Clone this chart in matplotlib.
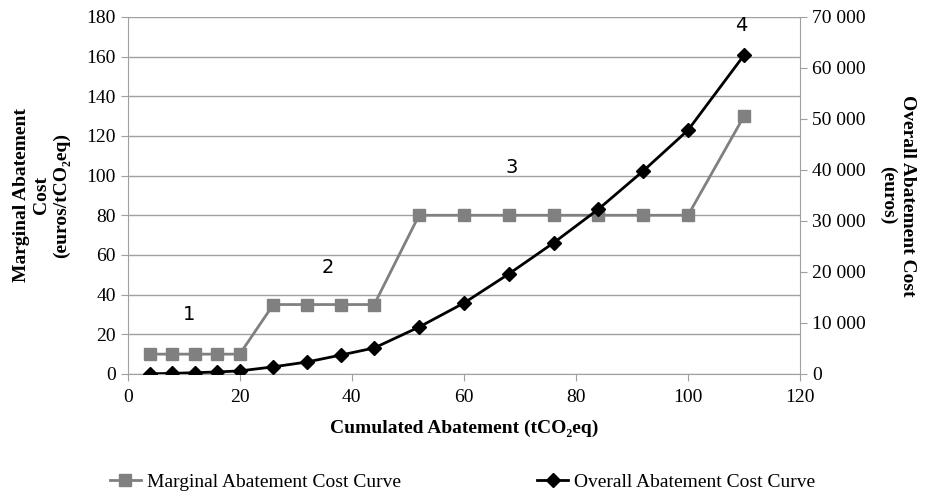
import matplotlib
matplotlib.use("Agg")
import matplotlib.pyplot as plt
from matplotlib.ticker import FuncFormatter

# data
abatement = [4, 8, 12, 16, 20, 26, 32, 38, 44, 52, 60, 68, 76, 84, 92, 100, 110]
marginal_cost = [10, 10, 10, 10, 10, 35, 35, 35, 35, 80, 80, 80, 80, 80, 80, 80, 130]
overall_cost = [40, 120, 250, 400, 600, 1400, 2350, 3700, 5100, 9200, 13900,
                19600, 25700, 32300, 39800, 47800, 62500]
step_labels = ["1", "2", "3", "4"]
step_x = [11, 35.7, 68.6, 109.5]
step_y = [30, 53.5, 104, 175.5]

serif = "Liberation Serif"
gray = "#808080"
axis_gray = "#a0a0a0"

fig = plt.figure(figsize=(9.25, 4.96), dpi=100)
ax = fig.add_axes([0.138, 0.246, 0.727, 0.72])
ax2 = ax.twinx()

ax.set_xlim(0, 120)
ax.set_ylim(0, 180)
ax.set_xticks(range(0, 121, 20))
ax.set_yticks(range(0, 181, 20))
ax2.set_ylim(0, 70000)
ax2.set_yticks(range(0, 70001, 10000))
ax2.yaxis.set_major_formatter(FuncFormatter(lambda v, p: "{:,.0f}".format(v).replace(",", " ")))

ax.grid(axis="y", color=axis_gray, linewidth=1)
ax.set_axisbelow(True)

for a in (ax, ax2):
    a.spines["top"].set_visible(False)
    for s in ("left", "right", "bottom"):
        a.spines[s].set_color(axis_gray)
    a.tick_params(colors=axis_gray, labelcolor="black", length=5, labelsize=14)
    for lbl in a.get_xticklabels() + a.get_yticklabels():
        lbl.set_fontfamily(serif)
ax.tick_params(axis="x", pad=6)
ax.spines["right"].set_visible(False)
ax2.spines["left"].set_visible(False)
ax2.spines["bottom"].set_visible(False)

l1, = ax.plot(abatement, marginal_cost, color=gray, marker="s", markersize=8,
              linewidth=2, label="Marginal Abatement Cost Curve", zorder=3)
l2, = ax2.plot(abatement, overall_cost, color="black", marker="D", markersize=7.5,
               linewidth=2, label="Overall Abatement Cost Curve", zorder=3)

for t, x, y in zip(step_labels, step_x, step_y):
    ax.text(x, y, t, fontsize=14, ha="center", va="center", family="DejaVu Sans")

ax.set_xlabel("Cumulated Abatement (tCO₂eq)", fontsize=14, fontweight="bold",
              family=serif, labelpad=10)
ax.set_ylabel("Marginal Abatement\nCost\n(euros/tCO₂eq)", fontsize=14,
              fontweight="bold", family=serif, labelpad=12)
ax2.set_ylabel("Overall Abatement Cost\n(euros)", fontsize=14, fontweight="bold",
               family=serif, rotation=-90, labelpad=36)

fig.legend(handles=[l1, l2], loc="lower center", ncol=2, frameon=False,
           bbox_to_anchor=(0.5, -0.025), columnspacing=7, handlelength=1.6,
           handletextpad=0.3, prop={"family": serif, "size": 14})

fig.savefig("out.png", dpi=100)
